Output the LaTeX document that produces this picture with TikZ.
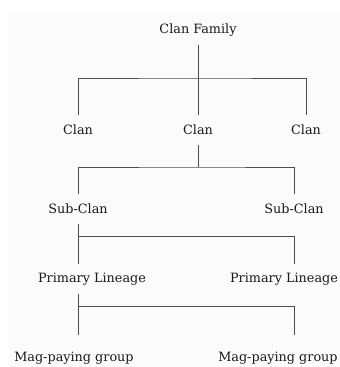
\documentclass[tikz,border=0pt]{standalone}
\usepackage{fontspec}
\setmainfont{DejaVu Serif}
\begin{document}
\begin{tikzpicture}[x=1pt,y=-1pt,
    lbl/.style={font=\fontsize{12.8}{14}\selectfont, text=black!90, inner sep=0pt, minimum height=30pt},
    tie/.style={line width=1pt, draw=black!70}]
    \useasboundingbox (0,0) rectangle (340,367);
    \fill[black!1.5] (8,12) rectangle (340,367);

    \node[lbl] (fam) at (198,30) {Clan Family};
    \node[lbl] (clanL) at (78,130) {Clan};
    \node[lbl] (clanM) at (198,130) {Clan};
    \node[lbl] (clanR) at (306,130) {Clan};
    \node[lbl] (subL) at (78,209) {Sub-Clan};
    \node[lbl] (subR) at (294,209) {Sub-Clan};
    \node[lbl] (linL) at (92,279) {Primary Lineage};
    \node[lbl] (linR) at (284,279) {Primary Lineage};
    \node[lbl, minimum height=46pt] (grpL) at (74,358) {Mag-paying group};
    \node[lbl, minimum height=46pt] (grpR) at (278,358) {Mag-paying group};

    % junctions of the bars
    \coordinate (b1) at (198,78);
    \coordinate (b2) at (198,167);
    \coordinate (b3) at (294,236);
    \coordinate (b4) at (294,306);

    % clan family -> clans
    \draw[tie] (fam) -- (clanM);
    \draw[tie] (clanL.north) |- (b1) -| (clanR.north);
    % clan -> sub-clans
    \draw[tie] (clanM.south) -- (b2);
    \draw[tie] (subL.north) |- (b2) -| (subR.north);
    % sub-clan -> primary lineages
    \draw[tie] (subL.south) -- (subL |- linL.north);
    \draw[tie] (subL |- b3) -| (subR |- linR.north);
    % primary lineage -> mag-paying groups
    \draw[tie] (subL |- linL.south) -- (subL |- grpL.north);
    \draw[tie] (subL |- b4) -| (subR |- grpR.north);
\end{tikzpicture}
\end{document}
